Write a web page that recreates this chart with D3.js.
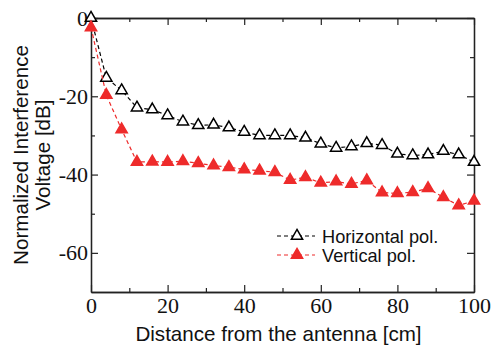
<!DOCTYPE html>
<html>
<head>
<meta charset="utf-8">
<script src="https://cdn.jsdelivr.net/npm/d3@7"></script>
<style>
  body { margin: 0; background: #fff; }
  svg { display: block; }
</style>
</head>
<body>
<svg id="chart"></svg>
<script>
let distance = [0, 4, 8, 12, 16, 20, 24, 28, 32, 36, 40, 44, 48, 52, 56, 60, 64, 68, 72, 76, 80, 84, 88, 92, 96, 100]
let horizontal = [0, -15.3, -18.5, -22.9, -23.4, -24.9, -26.5, -27.4, -27.3, -28.0, -29.1, -30.0, -30.0, -30.0, -30.6, -32.1, -33.2, -32.8, -32.0, -32.5, -34.7, -35.1, -34.9, -34.0, -34.9, -36.8]
let vertical = [-2.4, -19.7, -28.5, -36.8, -36.7, -36.8, -36.6, -37.1, -37.7, -38.1, -38.7, -39.0, -39.4, -41.4, -40.7, -42.1, -41.8, -42.4, -41.5, -44.6, -44.8, -44.5, -43.5, -45.8, -47.9, -46.7]
let xTicks = [0, 20, 40, 60, 80, 100]
let xMinor = [10, 30, 50, 70, 90]
let yTicks = [0, -20, -40, -60]
let yMinor = [-10, -30, -50]
let seriesNames = ["Horizontal pol.", "Vertical pol."]

let width = 497
let height = 347
let plotLeft = 91, plotRight = 474, plotTop = 18, plotBottom = 292

let svg = d3.select('#chart').attr('width', width).attr('height', height)

let xScale = d3.scaleLinear().domain([0, 100]).range([plotLeft, plotRight])
let yScale = d3.scaleLinear().domain([-70, 0]).range([plotBottom, plotTop])

let axisColor = '#222'
let red = '#ee2b2b'

let styleAxis = (g) => {
    g.select('.domain').attr('stroke', axisColor).attr('stroke-width', 1.3)
    g.selectAll('.tick line').attr('stroke', axisColor).attr('stroke-width', 1.2)
    g.selectAll('text')
     .attr('font-family', '"Liberation Serif", "Times New Roman", serif')
     .attr('font-size', 22)
     .attr('fill', '#111')
}

// bottom and left axes with labels, ticks pointing inward
svg.append('g')
   .attr('transform', 'translate(0,' + plotBottom + ')')
   .call(d3.axisBottom(xScale).tickValues(xTicks).tickSize(-7).tickPadding(5.5).tickSizeOuter(0).tickFormat(d => String(d)))
   .call(styleAxis)

svg.append('g')
   .attr('transform', 'translate(0,' + plotBottom + ')')
   .call(d3.axisBottom(xScale).tickValues(xMinor).tickSize(-4).tickSizeOuter(0).tickFormat(''))
   .call(styleAxis)

svg.append('g')
   .attr('transform', 'translate(' + plotLeft + ',0)')
   .call(d3.axisLeft(yScale).tickValues(yTicks).tickSize(-7).tickPadding(3).tickSizeOuter(0).tickFormat(d => String(d)))
   .call(styleAxis)

svg.append('g')
   .attr('transform', 'translate(' + plotLeft + ',0)')
   .call(d3.axisLeft(yScale).tickValues(yMinor).tickSize(-4).tickSizeOuter(0).tickFormat(''))
   .call(styleAxis)

// mirrored top and right axes
svg.append('g')
   .attr('transform', 'translate(0,' + plotTop + ')')
   .call(d3.axisTop(xScale).tickValues(xTicks).tickSize(-7).tickSizeOuter(0).tickFormat(''))
   .call(styleAxis)

svg.append('g')
   .attr('transform', 'translate(0,' + plotTop + ')')
   .call(d3.axisTop(xScale).tickValues(xMinor).tickSize(-4).tickSizeOuter(0).tickFormat(''))
   .call(styleAxis)

svg.append('g')
   .attr('transform', 'translate(' + plotRight + ',0)')
   .call(d3.axisRight(yScale).tickValues(yTicks).tickSize(-7).tickSizeOuter(0).tickFormat(''))
   .call(styleAxis)

svg.append('g')
   .attr('transform', 'translate(' + plotRight + ',0)')
   .call(d3.axisRight(yScale).tickValues(yMinor).tickSize(-4).tickSizeOuter(0).tickFormat(''))
   .call(styleAxis)

// axis titles
let sans = '"Liberation Sans", Arial, sans-serif'
svg.append('text')
   .attr('x', 278.5)
   .attr('y', 341)
   .attr('text-anchor', 'middle')
   .attr('font-family', sans)
   .attr('font-size', 20.6)
   .attr('fill', '#111')
   .text('Distance from the antenna [cm]')

let yTitle = svg.append('text')
   .attr('transform', 'translate(0,' + ((plotTop + plotBottom) / 2) + ') rotate(-90)')
   .attr('text-anchor', 'middle')
   .attr('font-family', sans)
   .attr('font-size', 20.6)
   .attr('fill', '#111')
yTitle.append('tspan').attr('x', 0).attr('y', 28).text('Normalized Interference')
yTitle.append('tspan').attr('x', 0).attr('y', 50).text('Voltage [dB]')

// series
let triangle = d3.symbol().type(d3.symbolTriangle).size(55)

let drawSeries = (values, color, fill) => {
    let pts = distance.map((d, i) => [d, values[i]])
    let line = d3.line().x(d => xScale(d[0])).y(d => yScale(d[1]))
    svg.append('path')
       .datum(pts)
       .attr('d', line)
       .attr('fill', 'none')
       .attr('stroke', color)
       .attr('stroke-width', 1.2)
       .attr('stroke-dasharray', '4,3')
    svg.append('g').selectAll('path')
       .data(pts)
       .enter()
       .append('path')
       .attr('d', triangle)
       .attr('transform', d => 'translate(' + xScale(d[0]) + ',' + yScale(d[1]) + ')')
       .attr('fill', fill)
       .attr('stroke', color)
       .attr('stroke-width', 1.5)
}

drawSeries(horizontal, '#000', '#fff')
drawSeries(vertical, red, red)

// legend
let legend = svg.append('g').attr('transform', 'translate(277,236)')
let legendRows = [
    { name: seriesNames[0], color: '#000', fill: '#fff' },
    { name: seriesNames[1], color: red, fill: red }
]
legendRows.forEach((r, i) => {
    let g = legend.append('g').attr('transform', 'translate(0,' + (i * 19) + ')')
    g.append('line')
     .attr('x1', 0).attr('x2', 38).attr('y1', 0).attr('y2', 0)
     .attr('stroke', r.color).attr('stroke-width', 1.2).attr('stroke-dasharray', '4,3')
    g.append('path')
     .attr('d', triangle)
     .attr('transform', 'translate(20,0)')
     .attr('fill', r.fill).attr('stroke', r.color).attr('stroke-width', 1.5)
    g.append('text')
     .attr('x', 45).attr('y', 6.5)
     .attr('font-family', sans)
     .attr('font-size', 18.2)
     .attr('fill', '#111')
     .text(r.name)
})
</script>
</body>
</html>
